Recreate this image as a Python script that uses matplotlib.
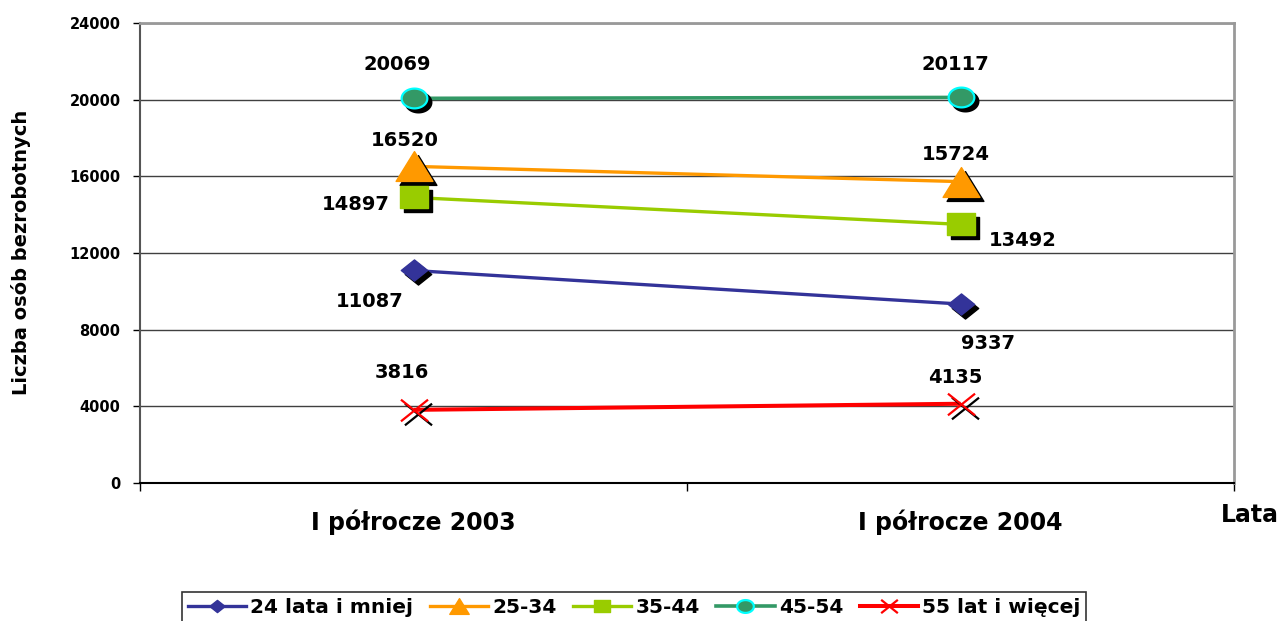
import numpy as np
import matplotlib
matplotlib.use("Agg")
import matplotlib.pyplot as plt
from matplotlib.path import Path
from matplotlib.lines import Line2D
from matplotlib.transforms import ScaledTranslation

# ---- data ----
categories = ["I półrocze 2003", "I półrocze 2004"]
series_names = ["24 lata i mniej", "25-34", "35-44", "45-54", "55 lat i więcej"]
s_24 = [11087, 9337]
s_25_34 = [16520, 15724]
s_35_44 = [14897, 13492]
s_45_54 = [20069, 20117]
s_55 = [3816, 4135]
y_ticks = [0, 4000, 8000, 12000, 16000, 20000, 24000]

plt.rcParams['font.family'] = ['DejaVu Sans']
plt.rcParams['font.weight'] = 'bold'

W, H = 1281, 621
fig = plt.figure(figsize=(W / 100, H / 100), dpi=100)
ax = fig.add_axes([140 / W, 1 - 483 / H, (1234 - 140) / W, (483 - 23) / H])

x = np.arange(len(categories))

# custom marker paths
t = np.linspace(0, 2 * np.pi, 60)
ellipse = Path(np.column_stack([np.cos(t), 0.77 * np.sin(t)]), closed=True)
triangle = Path([(0, 0.81), (-1, -0.81), (1, -0.81), (0, 0.81)], closed=True)
rect = Path([(-1, -0.82), (1, -0.82), (1, 0.82), (-1, 0.82), (-1, -0.82)], closed=True)
diamond = Path([(0, 0.8), (1, 0), (0, -0.8), (-1, 0), (0, 0.8)], closed=True)
cross = Path([(-1, -0.8), (1, 0.8), (-1, 0.8), (1, -0.8)],
             [Path.MOVETO, Path.LINETO, Path.MOVETO, Path.LINETO])

styles = [
    dict(data=s_24, color="#333399", marker=diamond, ms=19, mfc="#333399", mec="#333399", mew=1),
    dict(data=s_25_34, color="#FF9900", marker=triangle, ms=26.5, mfc="#FF9900", mec="#FF9900", mew=1),
    dict(data=s_35_44, color="#99CC00", marker=rect, ms=20, mfc="#99CC00", mec="#99CC00", mew=1),
    dict(data=s_45_54, color="#339966", marker=ellipse, ms=18.5, mfc="#339966", mec="#00FFFF", mew=1.6),
    dict(data=s_55, color="#FF0000", marker=cross, ms=19.5, mfc="none", mec="#FF0000", mew=1.6),
]
line_widths = [2.4, 2.4, 2.4, 2.6, 2.9]

shadow = ax.transData + ScaledTranslation(4 / 100, -4 / 100, fig.dpi_scale_trans)

for i, st in enumerate(styles):
    ax.plot(x, st["data"], color=st["color"], lw=line_widths[i], zorder=3,
            solid_capstyle="butt")
for i, st in enumerate(styles):
    ax.plot(x, st["data"], ls="none", marker=st["marker"], ms=st["ms"],
            mfc=("black" if st["mfc"] != "none" else "none"), mec="black",
            mew=st["mew"], transform=shadow, zorder=4 + i * 2)
    ax.plot(x, st["data"], ls="none", marker=st["marker"], ms=st["ms"],
            mfc=st["mfc"], mec=st["mec"], mew=st["mew"], zorder=5 + i * 2)

# data labels (offsets in pixels)
label_offsets = [
    [(-44, -31), (27, -39)],
    [(-9, 26), (-5, 27)],
    [(-58, -7), (62, -16)],
    [(-16, 34), (-5, 33)],
    [(-12, 37), (-5, 26)],
]
for st, offs in zip(styles, label_offsets):
    for xi, v, off in zip(x, st["data"], offs):
        ax.annotate(f"{v}", (xi, v), xytext=off, textcoords="offset pixels",
                    ha="center", va="center", fontsize=14, fontweight="bold",
                    color="black", zorder=20)

ax.set_xlim(-0.5, 1.5)
ax.set_ylim(0, 24000)
ax.set_yticks(y_ticks)
ax.set_yticklabels([str(v) for v in y_ticks], fontsize=10.5, fontweight="bold")
ax.set_xticks(x)
ax.set_xticklabels(categories, fontsize=17, fontweight="bold")
ax.set_xticks([-0.5, 0.5, 1.5], minor=True)
ax.tick_params(axis="x", which="major", length=0, pad=19)
ax.tick_params(axis="x", which="minor", length=6, width=1, color="black", direction="out")
ax.tick_params(axis="y", which="major", length=5, width=1, color="black", pad=9)

ax.grid(axis="y", color="#404040", lw=1)
ax.set_axisbelow(True)
for side in ["top", "right"]:
    ax.spines[side].set_color("#999999")
    ax.spines[side].set_linewidth(2)
ax.spines["left"].set_color("#555555")
ax.spines["left"].set_linewidth(1.5)
ax.spines["bottom"].set_color("black")
ax.spines["bottom"].set_linewidth(1.5)

fig.text(21 / W, 1 - 252 / H, "Liczba osób bezrobotnych", rotation=90,
         ha="center", va="center", fontsize=14, fontweight="bold")
fig.text(1250 / W, 1 - 515 / H, "Lata", ha="center", va="center",
         fontsize=17, fontweight="bold")

# legend
handles = []
legend_ms = [11, 14, 11, 12, 12]
for st, lms, lw in zip(styles, legend_ms, line_widths):
    handles.append(Line2D([0], [0], color=st["color"], lw=lw, marker=st["marker"],
                          ms=lms, mfc=st["mfc"], mec=st["mec"], mew=st["mew"]))
leg = fig.legend(handles, series_names, loc="upper center",
                 bbox_to_anchor=(634 / W, 1 - 592 / H), ncol=5, frameon=True,
                 fancybox=False, edgecolor="black", fontsize=14.5,
                 handlelength=2.9, handletextpad=0.2, columnspacing=0.82,
                 borderpad=0.3, borderaxespad=0)
leg.get_frame().set_linewidth(1.2)
for txt in leg.get_texts():
    txt.set_fontweight("bold")

fig.savefig("out.png", dpi=100)
